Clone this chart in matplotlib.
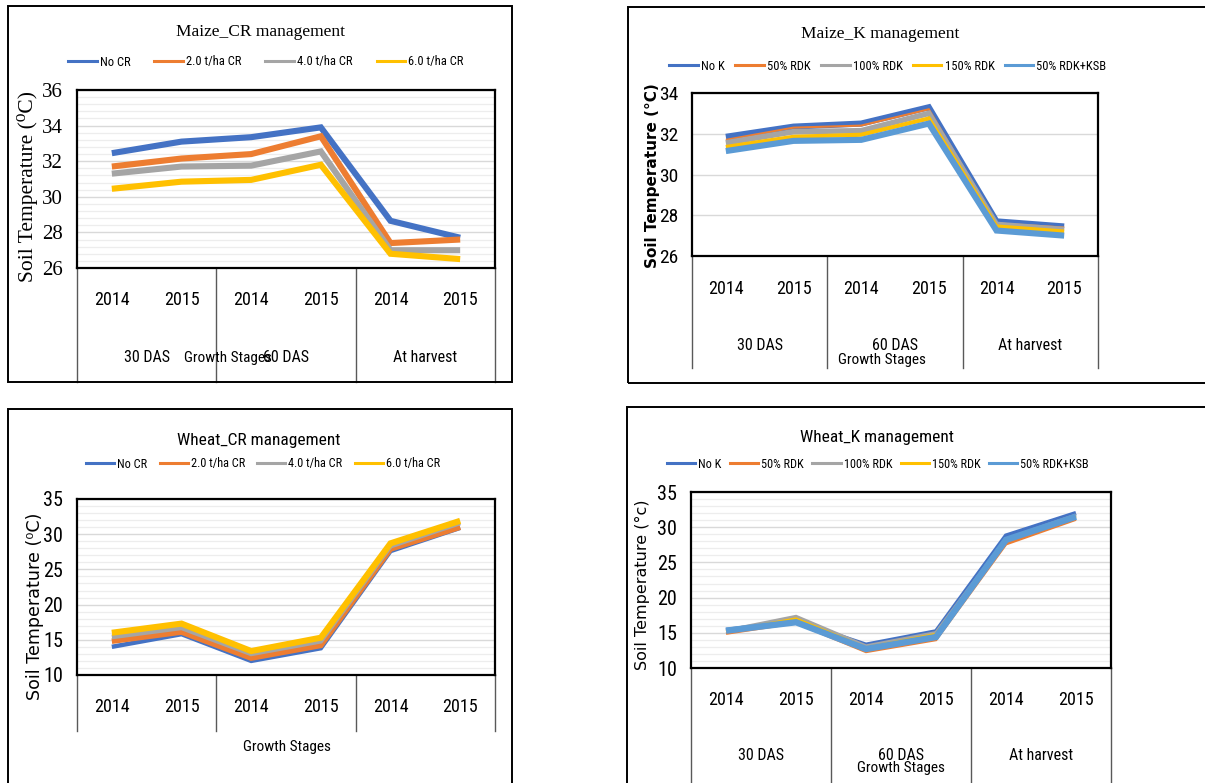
import matplotlib
matplotlib.use("Agg")
import matplotlib.pyplot as plt
import matplotlib.transforms as mtransforms
from matplotlib.lines import Line2D
from matplotlib.patches import Rectangle
from matplotlib.ticker import MultipleLocator
from matplotlib import font_manager

# ---------------- data ----------------
years = ["2014", "2015", "2014", "2015", "2014", "2015"]
stages = ["30 DAS", "60 DAS", "At harvest"]

cr_names = ["No CR", "2.0 t/ha CR", "4.0 t/ha CR", "6.0 t/ha CR"]
k_names = ["No K", "50% RDK", "100% RDK", "150% RDK", "50% RDK+KSB"]

maize_cr_no = [32.45, 33.1, 33.35, 33.9, 28.65, 27.7]
maize_cr_2 = [31.7, 32.15, 32.4, 33.4, 27.4, 27.6]
maize_cr_4 = [31.3, 31.7, 31.75, 32.55, 27.0, 27.0]
maize_cr_6 = [30.45, 30.85, 30.95, 31.8, 26.8, 26.5]

maize_k_no = [31.85, 32.35, 32.5, 33.3, 27.7, 27.45]
maize_k_50 = [31.7, 32.3, 32.4, 33.2, 27.6, 27.4]
maize_k_100 = [31.55, 32.1, 32.15, 33.0, 27.55, 27.3]
maize_k_150 = [31.35, 31.85, 31.95, 32.75, 27.45, 27.2]
maize_k_ksb = [31.15, 31.65, 31.7, 32.5, 27.25, 27.0]

wheat_cr_no = [14.0, 15.8, 12.0, 13.8, 27.6, 30.9]
wheat_cr_2 = [14.8, 16.1, 12.4, 14.2, 27.9, 31.0]
wheat_cr_4 = [15.4, 16.7, 13.0, 14.8, 28.3, 31.6]
wheat_cr_6 = [16.0, 17.3, 13.4, 15.3, 28.7, 31.9]

wheat_k_no = [15.4, 16.6, 13.3, 15.2, 28.8, 32.0]
wheat_k_50 = [14.9, 16.4, 12.3, 14.0, 27.6, 31.1]
wheat_k_100 = [15.3, 17.3, 13.1, 15.0, 28.3, 31.7]
wheat_k_150 = [15.2, 17.0, 12.9, 14.8, 28.1, 31.5]
wheat_k_ksb = [15.3, 16.5, 12.7, 14.4, 28.2, 31.5]

# ---------------- fonts ----------------
_names = {f.name for f in font_manager.fontManager.ttflist}
NARROW, STRETCH, NSCALE = None, "normal", 1.0
for cand in ["Liberation Sans Narrow", "Roboto Condensed", "Open Sans Condensed",
             "Arial Narrow", "Carlito"]:
    if cand in _names:
        NARROW = [cand, "DejaVu Sans"]
        break
if NARROW is None:
    has_dv_cond = any(f.name == "DejaVu Sans" and str(f.stretch) in ("condensed", "semi-condensed", "500", "600")
                      for f in font_manager.fontManager.ttflist)
    if has_dv_cond:
        NARROW, STRETCH, NSCALE = ["DejaVu Sans"], "condensed", 0.95
    else:
        NARROW, STRETCH, NSCALE = ["Liberation Sans", "DejaVu Sans"], "normal", 0.9

SERIF = ["Liberation Serif", "DejaVu Serif"]
SANS = ["DejaVu Sans"]

W, H = 1205, 783
C_BLUE, C_ORANGE, C_GRAY, C_YELLOW, C_LBLUE = "#4472C4", "#ED7D31", "#A5A5A5", "#FFC000", "#5B9BD5"

fig = plt.figure(figsize=(W / 100, H / 100), dpi=100)
fig.patch.set_facecolor("white")


def fx(x):
    return x / W


def fy(y):
    return 1 - y / H


def outer_box(x0, y0, x1, y1):
    fig.patches.append(Rectangle((fx(x0), fy(y1)), fx(x1) - fx(x0), fy(y0) - fy(y1),
                                 transform=fig.transFigure, fill=False, ec="black", lw=1.4))


def ntext(size):
    return dict(family=NARROW, fontstretch=STRETCH, fontsize=size * NSCALE)


def panel(box, ylim, major, minor, series, names, colors, widths, title, title_kw,
          title_xy, tick_kw, ylabel, ylabel_kw, ylabel_xy,
          leg_xy, leg_size, leg_colspacing, year_y, sep_bottom, group_y, gs_xy,
          show_groups=True):
    x0, y0, x1, y1 = box
    ax = fig.add_axes([fx(x0), fy(y1), fx(x1) - fx(x0), fy(y0) - fy(y1)])
    hpx = y1 - y0
    xs = list(range(len(years)))
    handles = []
    for vals, name, c, lw in zip(series, names, colors, widths):
        ax.plot(xs, vals, color=c, lw=lw, solid_joinstyle="miter",
                solid_capstyle="butt", label=name, zorder=3)
        handles.append(Line2D([], [], color=c, lw=2.2, label=name))
    ax.set_xlim(-0.5, len(years) - 0.5)
    ax.set_ylim(*ylim)
    ax.yaxis.set_major_locator(MultipleLocator(major))
    if minor:
        ax.yaxis.set_minor_locator(MultipleLocator(minor))
        ax.grid(True, which="minor", axis="y", color="#EDEDED", lw=0.9, zorder=0)
    ax.grid(True, which="major", axis="y", color="#D9D9D9", lw=1.0, zorder=0)
    ax.set_axisbelow(True)
    ax.set_xticks([])
    ax.tick_params(axis="y", which="both", length=0, pad=10)
    for lab in ax.get_yticklabels():
        lab.set(**tick_kw)
    for s in ax.spines.values():
        s.set_color("black")
        s.set_linewidth(1.6)

    trans = mtransforms.blended_transform_factory(ax.transData, ax.transAxes)
    for i, yr in enumerate(years):
        ax.text(i, (y1 - year_y) / hpx, yr, transform=trans, ha="center", va="center",
                color="#000000", **ntext(13))
    for b in [-0.5, 1.5, 3.5, 5.5]:
        ax.add_line(Line2D([b, b], [0, (y1 - sep_bottom) / hpx], transform=trans,
                           color="#595959", lw=1.0, clip_on=False))
    if show_groups:
        for g, st in enumerate(stages):
            ax.text(2 * g + 0.5, (y1 - group_y) / hpx, st, transform=trans, ha="center",
                    va="center", color="#000000", **ntext(11.5))
    fig.text(fx(gs_xy[0]), fy(gs_xy[1]), "Growth Stages", ha="center", va="center",
             color="#000000", **ntext(11))

    fig.text(fx(title_xy[0]), fy(title_xy[1]), title, ha="center", va="center",
             color="#000000", **title_kw)
    fig.text(fx(ylabel_xy[0]), fy(ylabel_xy[1]), ylabel, rotation=90, ha="center",
             va="center", color="#000000", **ylabel_kw)
    fig.legend(handles=handles, loc="center", bbox_to_anchor=(fx(leg_xy[0]), fy(leg_xy[1])),
               ncol=len(names), frameon=False,
               prop={"family": NARROW, "stretch": STRETCH, "size": leg_size * NSCALE},
               handlelength=2.3, handletextpad=0.25, columnspacing=leg_colspacing,
               borderaxespad=0, borderpad=0)
    return ax


# Panel 1: Maize CR
outer_box(8, 6, 512, 382)
panel((77, 90, 495, 268), (26, 36), 2, 0.4,
      [maize_cr_no, maize_cr_2, maize_cr_4, maize_cr_6], cr_names,
      [C_BLUE, C_ORANGE, C_GRAY, C_YELLOW], [4.4, 4.4, 4.4, 4.4],
      "Maize_CR management", dict(family=SERIF, fontsize=12.5), (261, 32),
      dict(family=SERIF, fontsize=15),
      "Soil Temperature (\u2070C)", dict(family=SERIF + ["DejaVu Serif"], fontsize=15.5), (28, 186),
      (266, 62), 9.0, 1.9, 300, 382, 357, (228, 358))

# Panel 2: Maize K
outer_box(628, 7, 1230, 383)
panel((692, 93, 1098, 256), (26, 34), 2, None,
      [maize_k_no, maize_k_50, maize_k_100, maize_k_150, maize_k_ksb], k_names,
      [C_BLUE, C_ORANGE, C_GRAY, C_YELLOW, C_LBLUE], [4.4, 1.5, 4.0, 3.0, 4.4],
      "Maize_K management", dict(family=SERIF, fontsize=12.5), (880, 34),
      dict(family=NARROW, fontstretch=STRETCH, fontsize=14 * NSCALE),
      "Soil Temperature (\u00b0C)", dict(family=SANS, fontsize=11, weight="bold"), (653, 176),
      (888, 66), 9.0, 0.8, 289, 368, 345, (882, 360))

# Panel 3: Wheat CR
outer_box(8, 409, 512, 800)
panel((77, 499, 495, 675), (10, 35), 5, 1,
      [wheat_cr_no, wheat_cr_2, wheat_cr_4, wheat_cr_6], cr_names,
      [C_BLUE, C_ORANGE, C_GRAY, C_YELLOW], [3.2, 4.0, 3.4, 4.4],
      "Wheat_CR management", ntext(12.5), (259, 440),
      dict(family=NARROW, fontstretch=STRETCH, fontsize=14.5 * NSCALE),
      "Soil Temperature (\u2070C)", dict(family=SANS, fontsize=12.6), (35, 606),
      (263, 464), 8.8, 1.0, 707, 731, None, (287, 747), show_groups=False)

# Panel 4: Wheat K
outer_box(627, 407, 1230, 800)
panel((691, 492, 1111, 668), (10, 35), 5, 1,
      [wheat_k_no, wheat_k_50, wheat_k_100, wheat_k_150, wheat_k_ksb], k_names,
      [C_BLUE, C_ORANGE, C_GRAY, C_YELLOW, C_LBLUE], [3.2, 2.0, 2.6, 2.0, 4.6],
      "Wheat_K management", ntext(12.5), (877, 438),
      dict(family=NARROW, fontstretch=STRETCH, fontsize=14.5 * NSCALE),
      "Soil Temperature (\u00b0c)", dict(family=SANS, fontsize=11.5), (642, 585),
      (878, 464), 8.8, 0.7, 700, 790, 756, (901, 768))

fig.savefig("out.png", dpi=100, facecolor="white")
